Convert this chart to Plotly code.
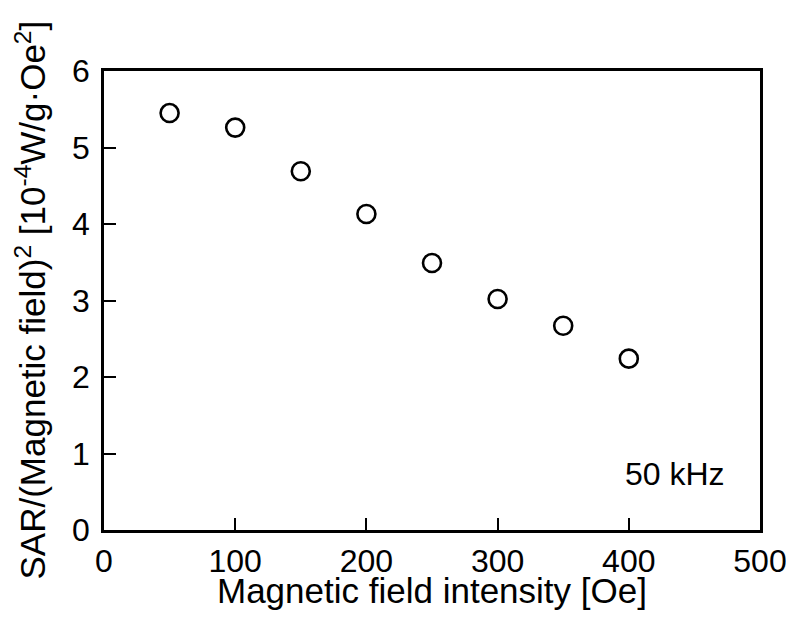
import plotly.graph_objects as go

field_oe = [50, 100, 150, 200, 250, 300, 350, 400]
sar_norm = [5.45, 5.26, 4.69, 4.13, 3.49, 3.02, 2.67, 2.24]
x_ticks = [0, 100, 200, 300, 400, 500]
y_ticks = [0, 1, 2, 3, 4, 5, 6]
x_title = "Magnetic field intensity [Oe]"
y_title = "SAR/(Magnetic field)<sup>2</sup> [10<sup>-4</sup>W/g·Oe<sup>2</sup>]"
freq_label = "50 kHz"

FONT = "Liberation Sans, Arial, Helvetica, sans-serif"

fig = go.Figure()
fig.add_trace(go.Scatter(
    x=field_oe, y=sar_norm, mode="markers",
    marker=dict(symbol="circle-open", size=18, color="black",
                line=dict(width=2.6, color="black")),
    showlegend=False,
))

fig.add_annotation(x=475, y=0.73, xref="x", yref="y", text=freq_label,
                   showarrow=False, xanchor="right", yanchor="middle",
                   font=dict(family=FONT, size=32, color="black"))

# axis titles
fig.add_annotation(x=0.5, y=0, xref="paper", yref="paper", text=x_title,
                   showarrow=False, xanchor="center", yanchor="top", yshift=-39,
                   font=dict(family=FONT, size=35, color="black"))
fig.add_annotation(x=0, y=0.5, xref="paper", yref="paper", text=y_title,
                   showarrow=False, xanchor="center", yanchor="middle",
                   textangle=-90, xshift=-74,
                   font=dict(family=FONT, size=35, color="black"))

axis_common = dict(
    showline=True, linecolor="black", linewidth=2.5, mirror=True,
    ticks="inside", ticklen=12, tickwidth=2, tickcolor="black",
    showgrid=False, zeroline=False, automargin=False,
    tickfont=dict(family=FONT, size=32, color="black"),
)

fig.update_xaxes(range=[0, 500], tickvals=x_ticks, ticklabelstandoff=1,
                 **axis_common)
fig.update_yaxes(range=[0, 6], tickvals=y_ticks, ticklabelstandoff=5,
                 **axis_common)

# page body has an 8px default margin, so the figure is shifted by 8px
fig.update_layout(
    template="none",
    width=786, height=609,
    margin=dict(l=96, r=34, t=63, b=87),
    paper_bgcolor="white", plot_bgcolor="white",
    font=dict(family=FONT, color="black"),
)

fig.write_html("out.html")
